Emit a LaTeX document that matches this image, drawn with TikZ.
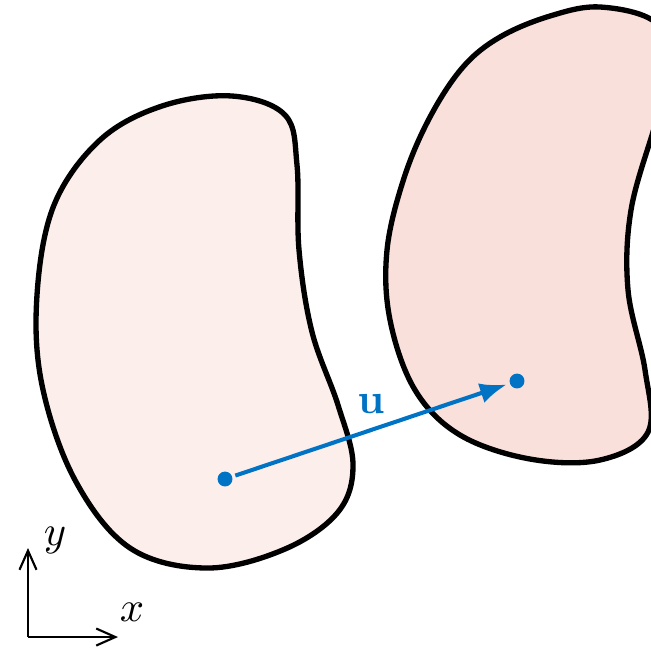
\documentclass[tikz,border=0pt]{standalone}
\usepackage{amsmath}
\usepackage{xcolor}
\usepackage{tikz}
\usetikzlibrary{arrows.meta, positioning}
\definecolor{bodyRef}{HTML}{FCEEEB}
\definecolor{bodyDef}{HTML}{FAE0DA}
\definecolor{dispBlue}{HTML}{0073C4}

\begin{document}
\begin{tikzpicture}[
  x=0.00826cm, y=-0.00826cm,
  body/.style={draw=black, line width=1.25pt, smooth cycle, tension=0.6},
  dot/.style={circle, fill=dispBlue, inner sep=0pt, minimum size=3.5pt},
  disp/.style={-{Latex[length=6.3pt, width=4.8pt]}, draw=dispBlue, line width=0.95pt,
               shorten <=0.6pt, shorten >=0.6pt},
  axis/.style={-{Straight Barb[length=4.5pt, width=4pt]}, line width=0.5pt}
]
\clip (0,0) rectangle (651,649);
\fill[white] (0,0) rectangle (651,649);

\draw[body, fill=bodyRef] plot coordinates {(232,96) (285,115) (297,165) (299,250)
  (312,332) (338,405) (353,465) (338,512) (285,549) (207,568) (130,548) (75,480)
  (42,385) (37,295) (54,205) (100,140) (162,106)};
\draw[body, fill=bodyDef] plot coordinates {(600,7) (655,22) (672,65) (655,125)
  (631,210) (628,290) (645,370) (648,432) (600,460) (530,459) (460,435) (415,390)
  (390,320) (387,250) (404,178) (430,117) (463,67) (500,37) (550,16)};

\node[dot] (X) at (225,479) {};
\node[dot] (Xd) at (517,381) {};
\draw[disp] (X) -- (Xd) node[midway, above, text=dispBlue] {$\mathbf{u}$};

\coordinate (O) at (28,637);
\coordinate (Ex) at (118,637);
\coordinate (Ey) at (28,548);
\draw[axis] (O) -- (Ex);
\draw[axis] (O) -- (Ey);
\node (lx) at (132,612) {$x$};
\node (ly) at (55,540) {$y$};
\end{tikzpicture}
\end{document}
